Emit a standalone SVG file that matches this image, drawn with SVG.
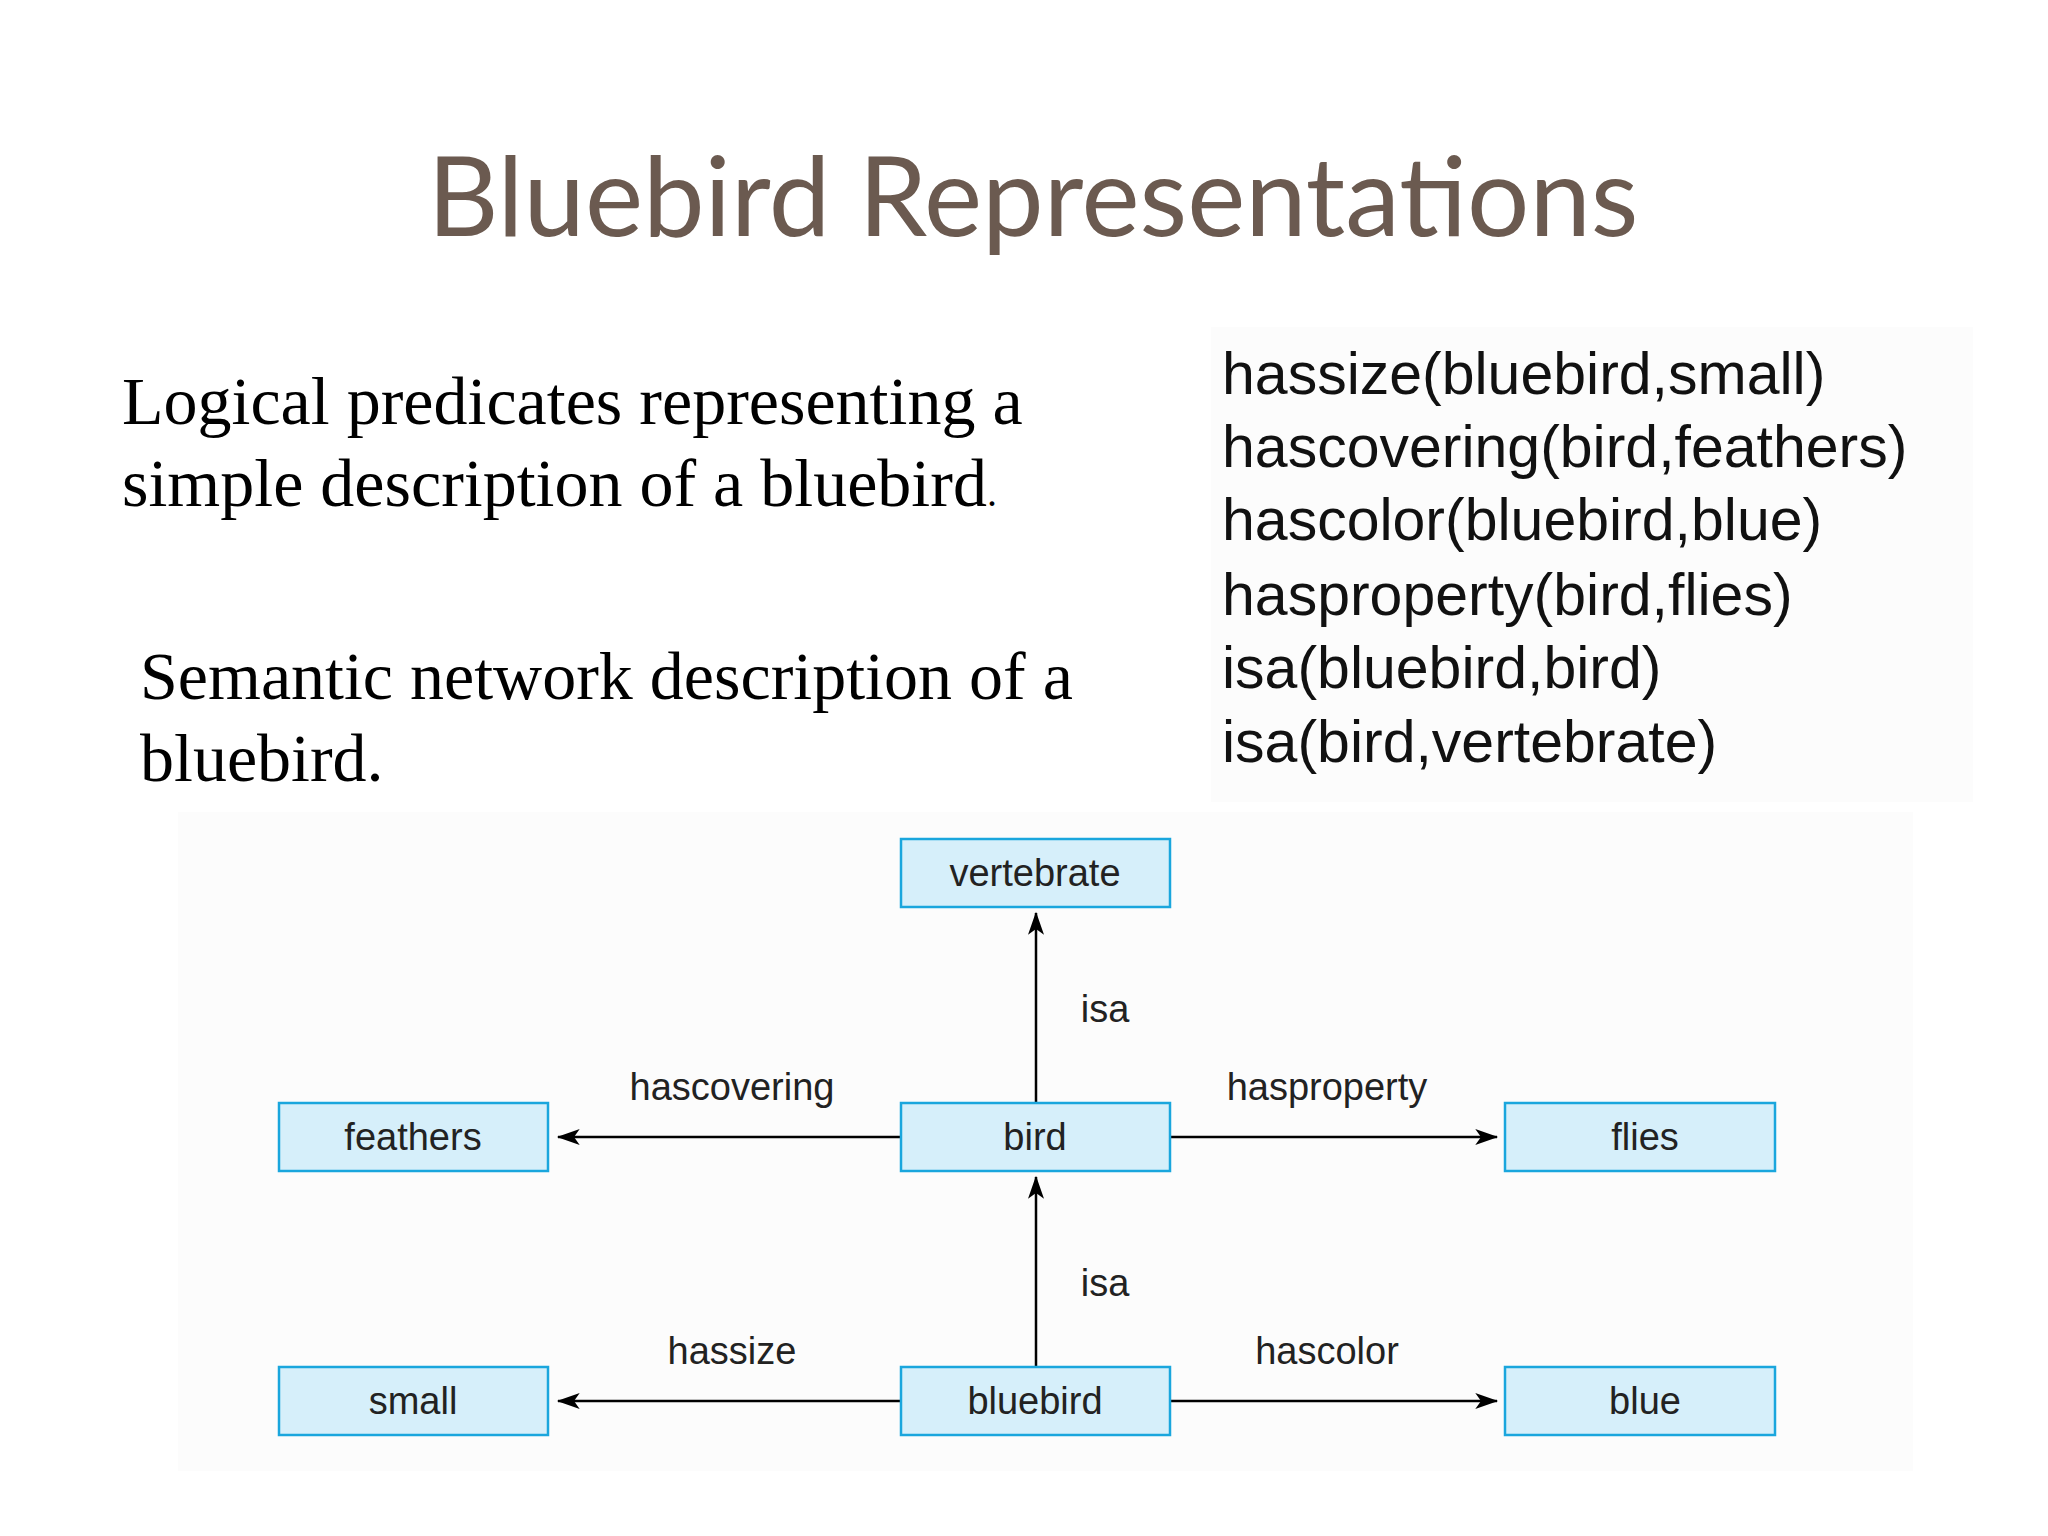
<svg xmlns="http://www.w3.org/2000/svg" width="2048" height="1536" viewBox="0 0 2048 1536">
<style>
.t{font-family:"Liberation Serif",serif;font-size:68px;fill:#000}
.p{font-family:"Liberation Sans",Arial,sans-serif;font-size:59px;fill:#111}
.n rect{fill:#d6effa;stroke:#1aa6dd;stroke-width:2.5}
.n text,.l{font-family:"Liberation Sans",Arial,sans-serif;font-size:38px;fill:#222;text-anchor:middle}
.c line{stroke:#000;stroke-width:2.5;marker-end:url(#a)}
</style>
<defs><marker id="a" viewBox="0 0 20 14" refX="19" refY="7" markerWidth="24" markerHeight="16" markerUnits="userSpaceOnUse" orient="auto"><path d="M0,0 L20,7 L0,14 L5,7 Z" fill="#000"/></marker></defs>
<rect width="2048" height="1536" fill="#fff"/>
<text x="1033" y="236" font-family="Lato,'Open Sans',sans-serif" font-size="110" fill="#6b5a50" text-anchor="middle">Bluebird Representations</text>
<text class="t" x="122" y="424">Logical predicates representing a</text>
<text class="t" x="122" y="506">simple description of a bluebird<tspan font-size="40">.</tspan></text>
<text class="t" x="140" y="699">Semantic network description of a</text>
<text class="t" x="140" y="781">bluebird.</text>
<rect x="1211" y="327" width="762" height="475" fill="#fcfcfc"/>
<text class="p" x="1222" y="394">hassize(bluebird,small)</text>
<text class="p" x="1222" y="467">hascovering(bird,feathers)</text>
<text class="p" x="1222" y="540">hascolor(bluebird,blue)</text>
<text class="p" x="1222" y="615">hasproperty(bird,flies)</text>
<text class="p" x="1222" y="688">isa(bluebird,bird)</text>
<text class="p" x="1222" y="762">isa(bird,vertebrate)</text>
<rect x="178" y="812" width="1735" height="659" fill="#fcfcfc"/>
<g class="c">
<line x1="1036" y1="1103" x2="1036" y2="913"/>
<line x1="1036" y1="1366" x2="1036" y2="1177"/>
<line x1="901" y1="1137" x2="558" y2="1137"/>
<line x1="1170" y1="1137" x2="1497" y2="1137"/>
<line x1="901" y1="1401" x2="558" y2="1401"/>
<line x1="1170" y1="1401" x2="1497" y2="1401"/>
</g>
<text class="l" x="1105" y="1022">isa</text>
<text class="l" x="1105" y="1296">isa</text>
<text class="l" x="732" y="1100">hascovering</text>
<text class="l" x="1327" y="1100">hasproperty</text>
<text class="l" x="732" y="1364">hassize</text>
<text class="l" x="1327" y="1364">hascolor</text>
<g id="vertebrate" class="n"><rect x="901" y="839" width="269" height="68"/><text x="1035" y="886">vertebrate</text></g>
<g id="bird" class="n"><rect x="901" y="1103" width="269" height="68"/><text x="1035" y="1150">bird</text></g>
<g id="feathers" class="n"><rect x="279" y="1103" width="269" height="68"/><text x="413" y="1150">feathers</text></g>
<g id="flies" class="n"><rect x="1505" y="1103" width="270" height="68"/><text x="1645" y="1150">flies</text></g>
<g id="bluebird" class="n"><rect x="901" y="1367" width="269" height="68"/><text x="1035" y="1414">bluebird</text></g>
<g id="small" class="n"><rect x="279" y="1367" width="269" height="68"/><text x="413" y="1414">small</text></g>
<g id="blue" class="n"><rect x="1505" y="1367" width="270" height="68"/><text x="1645" y="1414">blue</text></g>
</svg>
